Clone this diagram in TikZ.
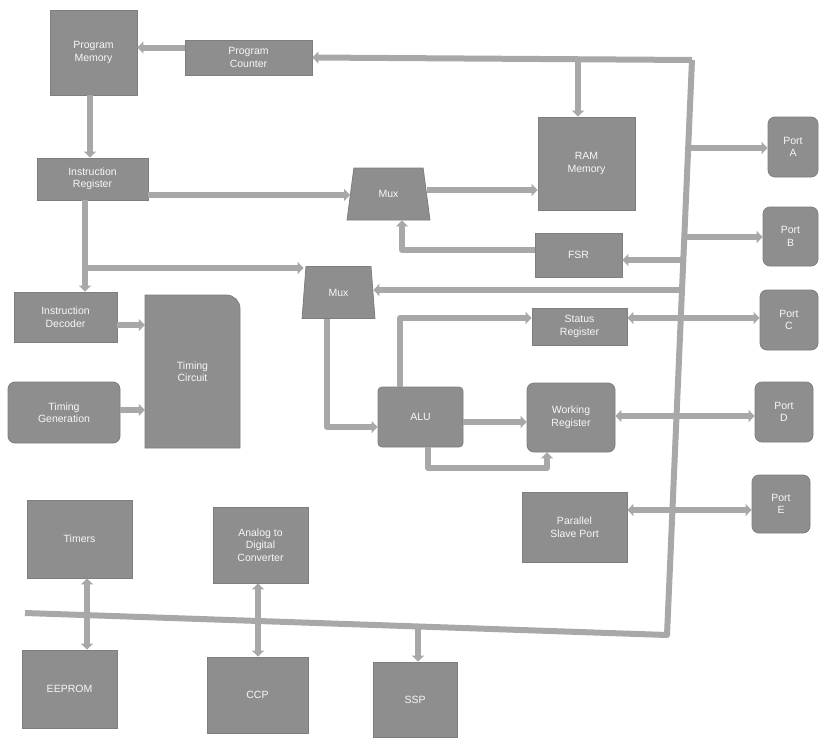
\documentclass[tikz,border=0pt]{standalone}
\usepackage{fontspec}
\setmainfont{Liberation Sans}
\usetikzlibrary{arrows.meta,shapes.geometric,calc}
\definecolor{boxc}{HTML}{8E8E8E}
\definecolor{boxd}{HTML}{7E7E7E}
\definecolor{linec}{HTML}{A8A8A8}
\begin{document}
\begin{tikzpicture}[x=1pt,y=-1pt,
 box/.style={fill=boxc, draw=boxd, line width=0.8pt, text=white!94!gray, font=\fontsize{10.5}{12.5}\selectfont, align=center, inner sep=1pt},
 rbox/.style={box, rounded corners=7pt},
 wire/.style={draw=linec, line width=6pt},
 arr/.style={wire, -{Triangle[width=12pt,length=6pt]}},
 darr/.style={wire, {Triangle[width=12pt,length=6pt]}-{Triangle[width=12pt,length=6pt]}},
 mux/.style={box, trapezium, trapezium stretches=true}]
\useasboundingbox (0,0) rectangle (819,739);
\fill[white] (0,0) rectangle (819,739);

% blocks
\node[box, minimum width=87pt, minimum height=85pt] (pm) at (93.5,52.5) {Program\\Memory};
\node[box, minimum width=127pt, minimum height=35pt] (pc) at (248.5,57.5) {Program\\Counter};
\node[box, minimum width=111pt, minimum height=42pt] (ir) at (92.5,179) {Instruction\\Register};
\node[box, minimum width=103pt, minimum height=50pt] (id) at (65.5,317) {Instruction\\Decoder};
\path[fill=boxc, draw=boxd, line width=0.8pt] (145,448) -- (145,295) -- (226,295) .. controls (234,295) and (240,301) .. (240,309) -- (240,448) -- cycle;
\node[text=white!94!gray, font=\fontsize{10.5}{12.5}\selectfont, align=center, minimum width=95pt, minimum height=153pt, inner sep=0pt] (tc) at (192.5,371.5) {Timing\\Circuit};
\node[rbox, minimum width=112pt, minimum height=61pt] (tg) at (64,412.5) {Timing\\Generation};
\node[mux, trapezium left angle=77, trapezium right angle=77, minimum width=83pt, minimum height=52pt] (mux1) at (388.5,194) {Mux};
\node[box, minimum width=97pt, minimum height=93pt] (ram) at (586.5,163.5) {RAM\\Memory};
\node[box, minimum width=87pt, minimum height=44pt] (fsr) at (578.5,255) {FSR};
\node[mux, trapezium left angle=82, trapezium right angle=82, minimum width=73pt, minimum height=52pt] (mux2) at (338.5,292.5) {Mux};
\node[box, minimum width=95pt, minimum height=37pt] (sr) at (579.5,326.5) {Status\\Register};
\node[box, rounded corners=4pt, minimum width=85pt, minimum height=60pt] (alu) at (420.5,417) {ALU};
\node[rbox, minimum width=88pt, minimum height=69pt] (wr) at (571,417.5) {Working\\Register};
\node[box, minimum width=105pt, minimum height=70pt] (psp) at (574.5,527) {Parallel\\Slave Port};
\node[rbox, minimum width=50pt, minimum height=60pt] (pA) at (793,147) {Port\\A};
\node[rbox, minimum width=55pt, minimum height=59pt] (pB) at (790.5,236.5) {Port\\B};
\node[rbox, minimum width=58pt, minimum height=60pt] (pC) at (789,320) {Port\\C};
\node[rbox, minimum width=58pt, minimum height=60pt] (pD) at (784,412) {Port\\D};
\node[rbox, minimum width=58pt, minimum height=58pt] (pE) at (781,504) {Port\\E};
\node[box, minimum width=105pt, minimum height=78pt] (tim) at (79.5,539) {Timers};
\node[box, minimum width=95pt, minimum height=76pt] (adc) at (260.5,545) {Analog to\\Digital\\Converter};
\node[box, minimum width=95pt, minimum height=78pt] (eep) at (69.5,689) {EEPROM};
\node[box, minimum width=101pt, minimum height=76pt] (ccp) at (257.5,695) {CCP};
\node[box, minimum width=84pt, minimum height=75pt] (ssp) at (415,699.5) {SSP};

% bus
\coordinate (btop) at (692,60);
\coordinate (bbot) at (667,635);
\coordinate (bleft) at (25,613);
\draw[wire, line join=round] (btop) -- (bbot) -- (bleft);
\draw[arr] (btop) -- (pc.east);
\coordinate (tr) at (578,59.3);
\draw[arr] (tr) -- (ram.north -| tr);

% bus branches
\coordinate (bA) at (688.2,148);
\coordinate (bB) at (684.3,237);
\coordinate (bF) at (683.3,260);
\coordinate (bM) at (682.0,290);
\coordinate (bS) at (680.8,318);
\coordinate (bW) at (676.5,416);
\coordinate (bP) at (672.4,510);
\draw[arr] (bA) -- (pA.west |- bA);
\draw[arr] (bB) -- (pB.west |- bB);
\draw[arr] (bF) -- (fsr.east |- bF);
\draw[arr] (bM) -- (mux2.east |- bM);
\draw[arr] (bS) -- (sr.east |- bS);
\draw[arr] (bS) -- (pC.west |- bS);
\draw[arr] (bW) -- (wr.east |- bW);
\draw[arr] (bW) -- (pD.west |- bW);
\draw[arr] (bP) -- (psp.east |- bP);
\draw[arr] (bP) -- (pE.west |- bP);

% bottom bus
\coordinate (bx1) at (87,615.1);
\coordinate (bx2) at (258,621);
\coordinate (bx3) at (418,626.5);
\draw[darr] (tim.south -| bx1) -- (eep.north -| bx1);
\draw[darr] (adc.south -| bx2) -- (ccp.north -| bx2);
\draw[arr] (bx3) -- (ssp.north -| bx3);

% left part
\coordinate (c1) at ($(pc.west)+(0,-10)$);
\draw[arr] (c1) -- (pm.east |- c1);
\coordinate (c2) at (90,120);
\draw[arr] (pm.south -| c2) -- (ir.north -| c2);
\coordinate (c3) at (85,268);
\draw[arr] (ir.south -| c3) -- (id.north -| c3);
\draw[arr] (c3) -- (mux2.west |- c3);
\coordinate (c4) at (150,195);
\draw[arr] (ir.east |- c4) -- (mux1.west |- c4);
\coordinate (c5) at (450,190);
\draw[arr] (mux1.east |- c5) -- (ram.west |- c5);
\coordinate (c6) at (402,250);
\draw[arr, line join=round] (fsr.west |- c6) -- (c6) -- (mux1.south -| c6);
\coordinate (c7) at (327,427);
\draw[arr, line join=round] (mux2.south -| c7) -- (c7) -- (alu.west |- c7);
\coordinate (c8) at (400,318);
\draw[arr, line join=round] (alu.north -| c8) -- (c8) -- (sr.west |- c8);
\coordinate (c9) at (490,422);
\draw[arr] (alu.east |- c9) -- (wr.west |- c9);
\coordinate (c10) at (428,468);
\coordinate (c11) at (547,468);
\draw[arr, line join=round] (alu.south -| c10) -- (c10) -- (c11) -- (wr.south -| c11);
\coordinate (c12) at (130,325);
\draw[arr] (id.east |- c12) -- (tc.west |- c12);
\coordinate (c13) at (130,410);
\draw[arr] (tg.east |- c13) -- (tc.west |- c13);
\end{tikzpicture}
\end{document}
